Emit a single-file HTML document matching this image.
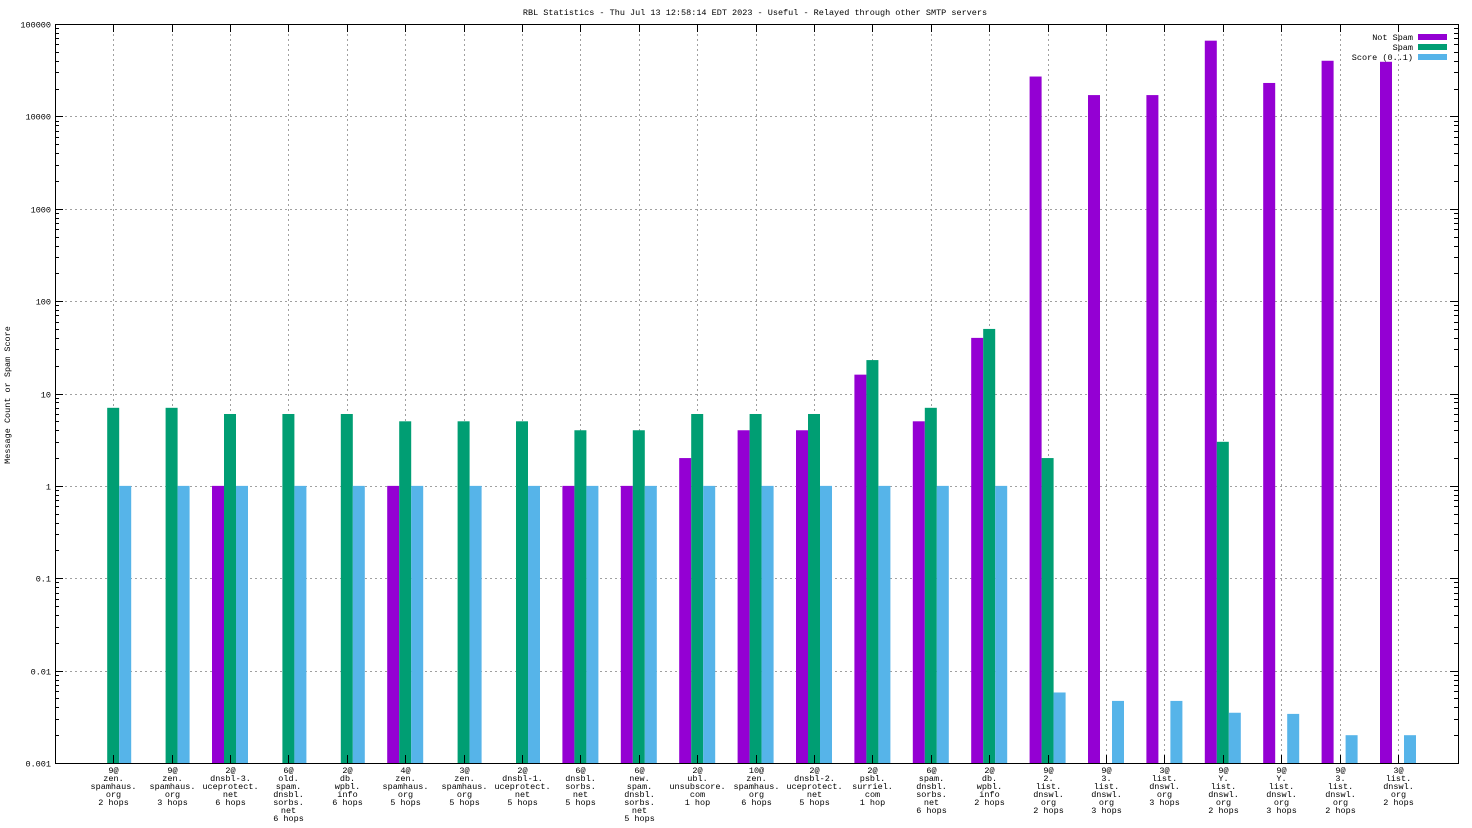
<!DOCTYPE html>
<html><head><meta charset="utf-8"><style>
html,body{margin:0;padding:0;background:#fff;}
svg{display:block;font-family:"Liberation Mono",monospace;}
</style></head><body>
<svg id="chart" width="1472" height="828" xmlns="http://www.w3.org/2000/svg">
<rect x="0" y="0" width="1472" height="828" fill="#fff"/>
<text x="755" y="15" font-size="8.5" text-anchor="middle">RBL Statistics - Thu Jul 13 12:58:14 EDT 2023 - Useful - Relayed through other SMTP servers</text>
<text transform="translate(10,395) rotate(-90)" font-size="8.5" text-anchor="middle">Message Count or Spam Score</text>
<g id="grid"></g><g id="bars"></g><g id="axes"></g><g id="legend"></g>
</svg>
<script>
const categories=[
["9@","zen.","spamhaus.","org","2 hops"],["9@","zen.","spamhaus.","org","3 hops"],["2@","dnsbl-3.","uceprotect.","net","6 hops"],
["6@","old.","spam.","dnsbl.","sorbs.","net","6 hops"],["2@","db.","wpbl.","info","6 hops"],["4@","zen.","spamhaus.","org","5 hops"],
["3@","zen.","spamhaus.","org","5 hops"],["2@","dnsbl-1.","uceprotect.","net","5 hops"],["6@","dnsbl.","sorbs.","net","5 hops"],
["6@","new.","spam.","dnsbl.","sorbs.","net","5 hops"],["2@","ubl.","unsubscore.","com","1 hop"],["10@","zen.","spamhaus.","org","6 hops"],
["2@","dnsbl-2.","uceprotect.","net","5 hops"],["2@","psbl.","surriel.","com","1 hop"],["6@","spam.","dnsbl.","sorbs.","net","6 hops"],
["2@","db.","wpbl.","info","2 hops"],["9@","2.","list.","dnswl.","org","2 hops"],["9@","3.","list.","dnswl.","org","3 hops"],
["3@","list.","dnswl.","org","3 hops"],["9@","Y.","list.","dnswl.","org","2 hops"],["9@","Y.","list.","dnswl.","org","3 hops"],
["9@","3.","list.","dnswl.","org","2 hops"],["3@","list.","dnswl.","org","2 hops"]];
const notSpam=[0,0,1,0,0,1,0,0,1,1,2,4,4,16,5,40,27000,17000,17000,66000,23000,40000,39000];
const spam=[7,7,6,6,6,5,5,5,4,4,6,6,6,23,7,50,2,0,0,3,0,0,0];
const score=[1,1,1,1,1,1,1,1,1,1,1,1,1,1,1,1,0.0058,0.0047,0.0047,0.0035,0.0034,0.002,0.002];
const yTicks=[0.001,0.01,0.1,1,10,100,1000,10000,100000];
const yTickLabels=["0.001","0.01","0.1","1","10","100","1000","10000","100000"];
const series=[{name:"Not Spam",vals:notSpam,color:"#9400d3",off:-1},{name:"Spam",vals:spam,color:"#009e73",off:0},{name:"Score (0..1)",vals:score,color:"#56b4e9",off:1}];

const L=55,R=1458,T=24,B=763;
const yMin=0.001,yMax=100000;
function y(v){return B-(Math.log10(v)-Math.log10(yMin))/(Math.log10(yMax)-Math.log10(yMin))*(B-T);}
const c0=113.2,step=58.4;
function x(i){return c0+i*step;}
const NS="http://www.w3.org/2000/svg";
function mk(tag,attrs,parent){const e=document.createElementNS(NS,tag);for(const k in attrs)e.setAttribute(k,attrs[k]);parent.appendChild(e);return e;}
const grid=document.getElementById('grid'),bars=document.getElementById('bars'),axes=document.getElementById('axes'),legend=document.getElementById('legend');

yTicks.forEach((t,i)=>{
  const yy=Math.round(y(t))+0.5;
  if(i>0&&i<yTicks.length-1){const g=mk('line',{x1:L,x2:R,y1:yy,y2:yy,stroke:'#a0a0a0','stroke-dasharray':'2,3','stroke-width':1},grid);
  
  }
  const lb=mk('text',{x:L-4,y:yy+3,'font-size':'8.5','text-anchor':'end'},axes);lb.textContent=yTickLabels[i];
  
  
  mk('line',{x1:L,x2:L+8,y1:yy,y2:yy,stroke:'#000'},axes);
  mk('line',{x1:R-8,x2:R,y1:yy,y2:yy,stroke:'#000'},axes);
  if(i<yTicks.length-1){for(let m=2;m<10;m++){const my=Math.round(y(t*m))+0.5;
    mk('line',{x1:L,x2:L+4,y1:my,y2:my,stroke:'#000'},axes);mk('line',{x1:R-4,x2:R,y1:my,y2:my,stroke:'#000'},axes);}}
});
categories.forEach((c,i)=>{
  const xx=Math.round(x(i))+0.5;
  const g=mk('line',{x1:xx,x2:xx,y1:T,y2:B,stroke:'#a0a0a0','stroke-dasharray':'2,3'},grid);
  
  
  mk('line',{x1:xx,x2:xx,y1:B,y2:B-8,stroke:'#000'},axes);
  mk('line',{x1:xx,x2:xx,y1:T,y2:T+8,stroke:'#000'},axes);
  const t=mk('text',{x:xx,y:B+10,'font-size':'8.5','text-anchor':'middle'},axes);
  
  
  c.forEach((ln,j)=>{const s=mk('tspan',{x:xx,dy:j?8:0},t);s.textContent=ln;});
});
const bw=12;
series.forEach(s=>{s.vals.forEach((v,i)=>{
  if(!(v>0))return;
  const cx=x(i)+s.off*bw;const top=Math.max(y(v),T);
  const r=mk('rect',{x:cx-bw/2,y:top,width:bw,height:B-top,fill:s.color},bars);
  
  
});});
const frame=mk('rect',{x:L+0.5,y:T+0.5,width:R-L,height:B-T,fill:'none',stroke:'#000'},axes);


series.forEach((s,k)=>{
  const ly=37+k*10;
  const t=mk('text',{x:1413,y:ly+3,'font-size':'8.5','text-anchor':'end'},legend);t.textContent=s.name;
  
  
  const r=mk('rect',{x:1418,y:ly-3,width:29,height:6,fill:s.color},legend);
  
  
});
</script>
</body></html>
